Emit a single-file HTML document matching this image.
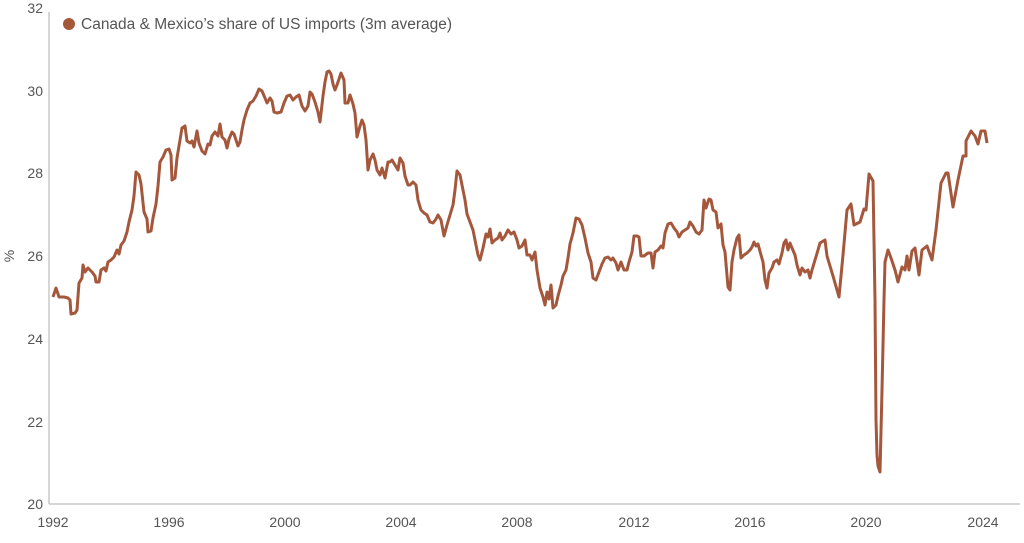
<!DOCTYPE html>
<html><head><meta charset="utf-8"><style>
body{margin:0;background:#fff;width:1024px;height:538px;overflow:hidden}
svg text{font-family:"Liberation Sans",sans-serif;fill:#555}
</style></head><body>
<svg width="1024" height="538" viewBox="0 0 1024 538">
<line x1="49" y1="12" x2="49" y2="504" stroke="#c8c8c8" stroke-width="1.5"/>
<line x1="49" y1="504" x2="1020" y2="504" stroke="#c8c8c8" stroke-width="1.5"/>
<g font-size="14" text-anchor="end">
<text x="43" y="13">32</text><text x="43" y="96">30</text><text x="43" y="178">28</text>
<text x="43" y="261">26</text><text x="43" y="344">24</text><text x="43" y="427">22</text>
<text x="43" y="509">20</text>
</g>
<text x="14" y="256" font-size="14" text-anchor="middle" transform="rotate(-90 14 256)">%</text>
<g font-size="14" text-anchor="middle">
<text x="53" y="527">1992</text><text x="169" y="527">1996</text><text x="285" y="527">2000</text>
<text x="401" y="527">2004</text><text x="517" y="527">2008</text><text x="634" y="527">2012</text>
<text x="750" y="527">2016</text><text x="866" y="527">2020</text><text x="983" y="527">2024</text>
</g>
<circle cx="69" cy="24" r="6" fill="#a5573c"/>
<text x="81" y="29" font-size="15.5" fill="#666">Canada &amp; Mexico’s share of US imports (3m average)</text>
<polyline fill="none" stroke="#a5573c" stroke-width="3" stroke-linejoin="round" points="53,297 56,288 59,297 64,297 68,298 70,300 71,314 75,313 77,310 79,283 82,278 83,265 85,272 88,268 92,272 95,276 96,282 99,282 101,270 104,268 106,271 108,262 111,260 114,257 117,250 119,254 121,245 124,241 127,232 129,222 132,210 134,196 136,172 139,175 141,184 144,212 147,219 148,232 151,231 153,218 156,204 158,186 160,162 163,157 166,150 169,149 171,155 172,180 175,178 177,158 180,140 182,128 185,126 187,141 190,143 192,141 194,147 197,131 199,143 202,151 205,154 208,144 210,145 212,136 215,132 218,136 220,124 222,137 225,140 227,148 229,139 232,132 234,134 236,140 238,146 240,142 242,130 244,120 247,110 250,103 253,101 256,96 259,89 262,91 265,98 267,103 270,98 272,101 274,112 277,113 281,112 284,103 287,96 290,95 293,100 296,97 299,95 302,106 305,111 308,106 310,92 312,94 315,102 318,112 320,122 323,96 325,82 327,72 329,71 331,74 333,84 335,90 337,85 339,79 341,73 344,80 345,103 348,103 350,95 353,104 355,113 357,137 360,126 362,120 364,125 366,140 368,170 370,160 373,154 375,160 377,170 380,175 382,168 385,178 388,162 390,162 392,160 395,165 398,170 400,158 403,163 405,176 408,185 410,185 413,182 416,185 418,200 421,210 424,213 427,215 430,222 433,223 436,219 438,215 441,220 444,236 447,225 450,215 453,205 455,190 457,171 460,175 462,185 465,200 467,214 470,222 473,230 475,240 478,255 480,260 483,248 486,234 488,237 490,229 492,243 495,240 498,238 500,233 502,240 505,236 508,230 511,234 514,232 517,240 519,248 522,246 525,240 527,255 530,255 532,260 535,252 537,270 540,288 543,297 545,305 547,292 549,299 551,285 553,308 556,305 558,296 561,285 563,276 566,270 568,258 570,244 573,233 576,218 579,219 582,225 585,238 588,253 591,262 593,278 596,280 599,272 602,264 605,258 608,257 611,260 613,258 616,263 618,270 621,262 624,270 627,270 629,262 632,252 634,236 637,236 639,237 641,256 644,256 648,253 651,253 653,268 655,252 658,250 661,246 663,248 665,233 668,224 671,223 674,228 677,232 679,237 682,232 685,230 688,228 690,222 693,226 696,232 699,234 702,230 704,200 706,208 709,199 711,200 713,210 716,212 718,228 721,224 723,245 725,252 728,287 730,290 732,262 734,250 737,238 739,235 741,258 744,255 747,253 750,250 752,247 754,242 756,246 758,244 761,255 763,262 765,280 767,288 769,273 772,268 774,262 777,260 779,264 782,253 784,243 786,240 788,250 790,243 792,248 795,255 797,265 800,275 802,268 805,272 808,270 810,278 812,270 815,260 818,250 820,243 825,240 827,256 833,276 839,297 843,255 847,210 851,204 854,225 860,222 864,209 866,210 869,174 873,181 875,300 876,420 877,455 878,466 880,472 882,390 884,300 885,262 888,250 891,258 895,270 898,282 902,267 905,270 907,256 909,270 912,251 915,248 919,275 922,250 927,246 932,260 936,230 941,183 946,173 948,173 953,207 958,180 963,156 966,156 966,141 971,131 975,136 978,144 981,131 985,131 987,143"/>
</svg>
</body></html>
